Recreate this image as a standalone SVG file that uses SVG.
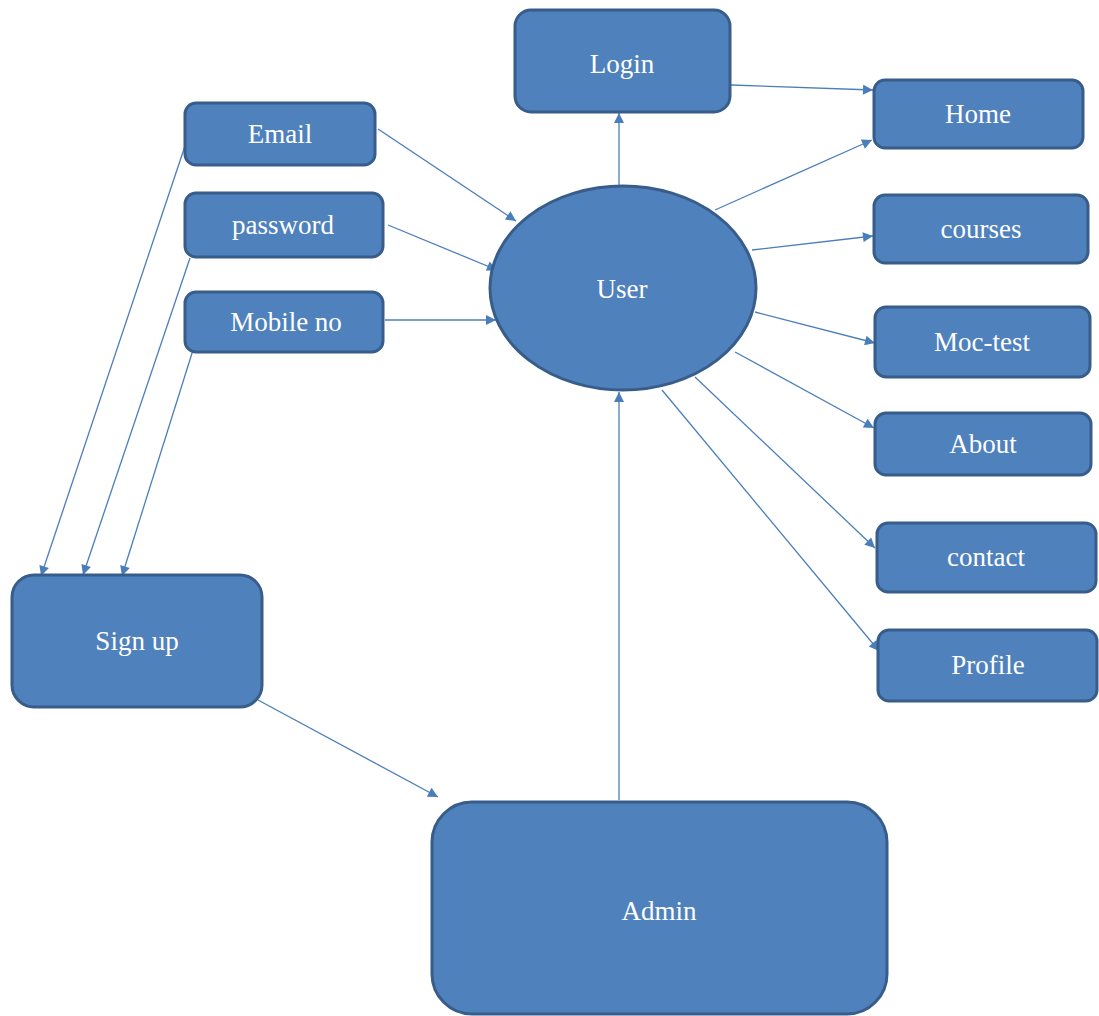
<svg xmlns="http://www.w3.org/2000/svg" width="1099" height="1016" viewBox="0 0 1099 1016">
<defs>
<marker id="arr" viewBox="0 0 10 10" refX="10" refY="5" markerWidth="13" markerHeight="10" markerUnits="userSpaceOnUse" orient="auto">
<path d="M0,0 L10,5 L0,10 z" fill="#4a7ebb"/>
</marker>
</defs>
<style>
.node{fill:#4f81bd;stroke:#385d8a;stroke-width:3}
.lbl{font-family:"Liberation Serif","Times New Roman",serif;font-size:27px;fill:#ffffff;text-anchor:middle}
.c{stroke:#4a7ebb;stroke-width:1.3;fill:none;marker-end:url(#arr)}
</style>
<rect width="1099" height="1016" fill="#ffffff"/>
<g id="connectors">
<line class="c" x1="619" y1="185" x2="619" y2="113"/>
<line class="c" x1="731" y1="85" x2="873" y2="90"/>
<line class="c" x1="715" y1="210" x2="872" y2="140"/>
<line class="c" x1="752" y1="250" x2="873" y2="236"/>
<line class="c" x1="755" y1="312" x2="875" y2="343"/>
<line class="c" x1="735" y1="352" x2="874" y2="428"/>
<line class="c" x1="695" y1="377" x2="875" y2="548"/>
<line class="c" x1="662" y1="390" x2="879" y2="651"/>
<line class="c" x1="378" y1="129" x2="516" y2="221"/>
<line class="c" x1="388" y1="225" x2="497" y2="270"/>
<line class="c" x1="385" y1="320" x2="496" y2="320"/>
<line class="c" x1="186" y1="143" x2="41" y2="576"/>
<line class="c" x1="190" y1="258" x2="83" y2="575"/>
<line class="c" x1="193" y1="350" x2="122" y2="576"/>
<line class="c" x1="258" y1="700" x2="438" y2="797"/>
<line class="c" x1="619" y1="800" x2="619" y2="392"/>
</g>
<g id="login"><rect class="node" x="515" y="10" width="215" height="102" rx="16"/><text class="lbl" x="622" y="73">Login</text></g>
<g id="email"><rect class="node" x="185" y="103" width="190" height="62" rx="11"/><text class="lbl" x="280" y="143">Email</text></g>
<g id="password"><rect class="node" x="185" y="193" width="198" height="64" rx="11"/><text class="lbl" x="283" y="234">password</text></g>
<g id="mobile"><rect class="node" x="185" y="292" width="198" height="60" rx="11"/><text class="lbl" x="286" y="331">Mobile no</text></g>
<g id="user"><ellipse class="node" cx="623" cy="288" rx="133" ry="102"/><text class="lbl" x="622" y="298">User</text></g>
<g id="home"><rect class="node" x="874" y="80" width="209" height="68" rx="11"/><text class="lbl" x="978" y="123">Home</text></g>
<g id="courses"><rect class="node" x="874" y="195" width="214" height="68" rx="11"/><text class="lbl" x="981" y="238">courses</text></g>
<g id="moctest"><rect class="node" x="875" y="307" width="215" height="70" rx="11"/><text class="lbl" x="982" y="351">Moc-test</text></g>
<g id="about"><rect class="node" x="875" y="413" width="216" height="62" rx="11"/><text class="lbl" x="983" y="453">About</text></g>
<g id="contact"><rect class="node" x="877" y="523" width="219" height="69" rx="11"/><text class="lbl" x="986" y="566">contact</text></g>
<g id="profile"><rect class="node" x="878" y="630" width="219" height="71" rx="11"/><text class="lbl" x="988" y="674">Profile</text></g>
<g id="signup"><rect class="node" x="12" y="575" width="250" height="132" rx="22"/><text class="lbl" x="137" y="650">Sign up</text></g>
<g id="admin"><rect class="node" x="432" y="802" width="455" height="212" rx="40"/><text class="lbl" x="659" y="920">Admin</text></g>
</svg>
